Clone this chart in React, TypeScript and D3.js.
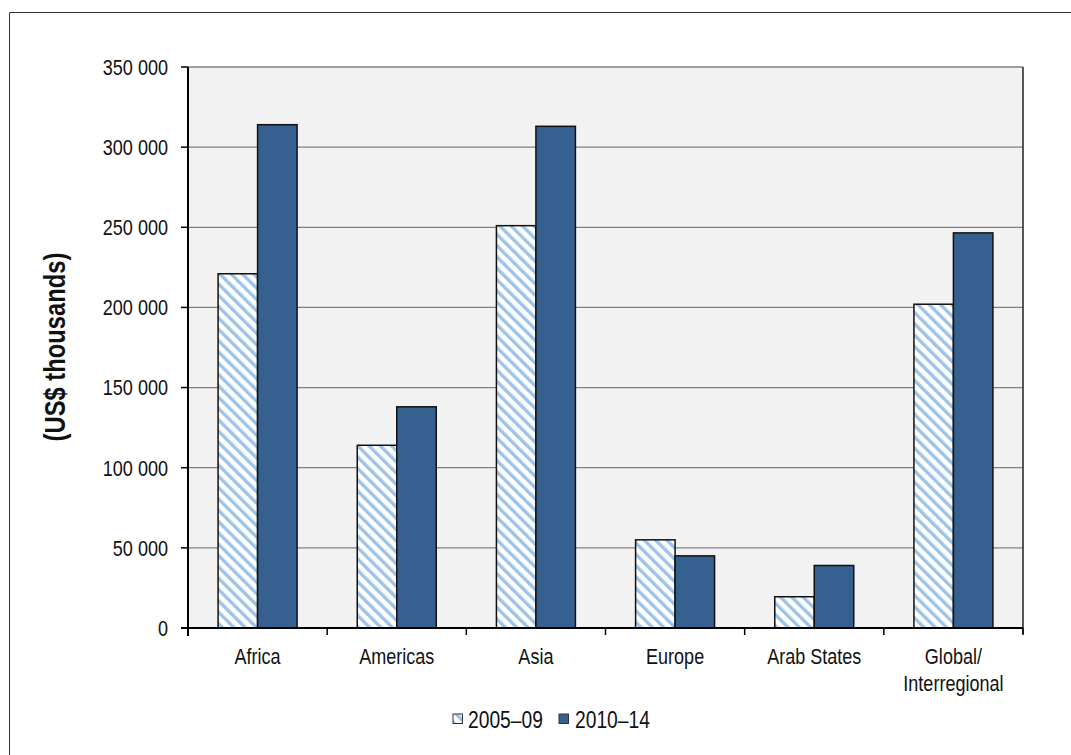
import React from "react";
import * as d3 from "d3";

const categories = ["Africa", "Americas", "Asia", "Europe", "Arab States", "Global/\nInterregional"];
const seriesNames = ["2005–09", "2010–14"];
const values2005 = [221000, 114000, 251000, 55000, 19500, 202000];
const values2010 = [314000, 138000, 313000, 45000, 39000, 246500];
const yTicks = [0, 50000, 100000, 150000, 200000, 250000, 300000, 350000];

const W = 1071, H = 755;
const M = { left: 188, right: 1023, top: 67, bottom: 628 };
const FONT = "'Liberation Sans', Arial, sans-serif";
const SX = 0.82;
const DARK = "#36608f";
const HATCH = "#9dc3e6";

const fmt = (v: number) => d3.format(",")(v).replace(/,/g, " ");

function NText(props: { x: number; y: number; anchor?: string; size: number; bold?: boolean; rotate?: number; dy?: string; children: React.ReactNode }) {
  const { x, y, anchor = "start", size, bold, rotate = 0, dy, children } = props;
  return (
    <text
      transform={`translate(${x},${y}) rotate(${rotate}) scale(${SX},1)`}
      textAnchor={anchor}
      dy={dy}
      fontFamily={FONT}
      fontSize={size}
      fontWeight={bold ? "bold" : "normal"}
      fill="#111"
    >
      {children}
    </text>
  );
}

export default function App() {
  const x = d3.scaleBand<string>().domain(categories).range([M.left, M.right]).padding(0);
  const xs = d3.scaleBand<string>().domain(seriesNames).range([0, x.bandwidth()]).paddingInner(0).paddingOuter(0.762);
  const y = d3.scaleLinear().domain([0, 350000]).range([M.bottom, M.top]);
  const series = [values2005, values2010];
  const boundaries = d3.range(categories.length + 1).map((i) => M.left + i * x.step());

  return (
    <svg width={W} height={H} style={{ position: "absolute", left: 0, top: 0, background: "#fff" }}>
      <defs>
        <pattern id="hatch" patternUnits="userSpaceOnUse" width="8" height="8" patternTransform="rotate(-45)">
          <rect width="8" height="8" fill="#fff" />
          <rect x="0" y="0" width="3.4" height="8" fill={HATCH} />
        </pattern>
      </defs>
      {/* outer frame */}
      <line x1={9.5} y1={12.5} x2={W} y2={12.5} stroke="#333" strokeWidth={1} />
      <line x1={9.5} y1={12.5} x2={9.5} y2={H} stroke="#333" strokeWidth={1} />

      {/* plot area */}
      <rect x={M.left} y={M.top} width={M.right - M.left} height={M.bottom - M.top} fill="#f2f2f2" />
      {yTicks.map((t) => (
        <line key={"g" + t} x1={M.left} x2={M.right} y1={y(t)} y2={y(t)} stroke="#808080" strokeWidth={1.3} />
      ))}
      <line x1={M.right} x2={M.right} y1={M.top} y2={M.bottom + 6} stroke="#222" strokeWidth={1.5} />

      {/* bars */}
      {series.map((vals, si) =>
        vals.map((v, ci) => (
          <rect
            key={si + "-" + ci}
            x={(x(categories[ci]) as number) + (xs(seriesNames[si]) as number)}
            y={y(v)}
            width={xs.bandwidth()}
            height={y(0) - y(v)}
            fill={si === 0 ? "url(#hatch)" : DARK}
            stroke="#111"
            strokeWidth={1.5}
          />
        ))
      )}

      {/* y axis */}
      <line x1={M.left} x2={M.left} y1={M.top} y2={M.bottom + 8} stroke="#000" strokeWidth={2} />
      {yTicks.map((t) => (
        <g key={"t" + t}>
          <line x1={M.left - 7} x2={M.left} y1={y(t)} y2={y(t)} stroke="#000" strokeWidth={1.5} />
          <NText x={168} y={y(t)} dy="0.36em" anchor="end" size={22}>
            {fmt(t)}
          </NText>
        </g>
      ))}

      {/* x axis */}
      <line x1={M.left - 7} x2={M.right} y1={M.bottom} y2={M.bottom} stroke="#000" strokeWidth={2} />
      {boundaries.map((b, i) => (
        <line key={"xb" + i} x1={b} x2={b} y1={M.bottom} y2={M.bottom + 7} stroke="#000" strokeWidth={1.5} />
      ))}
      {categories.map((c) =>
        c.split("\n").map((line, i) => (
          <NText key={c + i} x={(x(c) as number) + x.bandwidth() / 2} y={664 + i * 26.5} anchor="middle" size={22}>
            {line}
          </NText>
        ))
      )}

      {/* y label */}
      <NText x={65} y={347} rotate={-90} anchor="middle" size={29} bold>
        (US$ thousands)
      </NText>

      {/* legend */}
      {seriesNames.map((s, i) => {
        const lx = i === 0 ? 453 : 559;
        return (
          <g key={s}>
            <rect x={lx} y={714} width={9.5} height={9.5} fill={i === 0 ? "url(#hatch)" : DARK} stroke="#333" strokeWidth={1} />
            <NText x={lx + (i === 0 ? 15 : 16)} y={727.5} size={23.5}>
              {s}
            </NText>
          </g>
        );
      })}
    </svg>
  );
}
